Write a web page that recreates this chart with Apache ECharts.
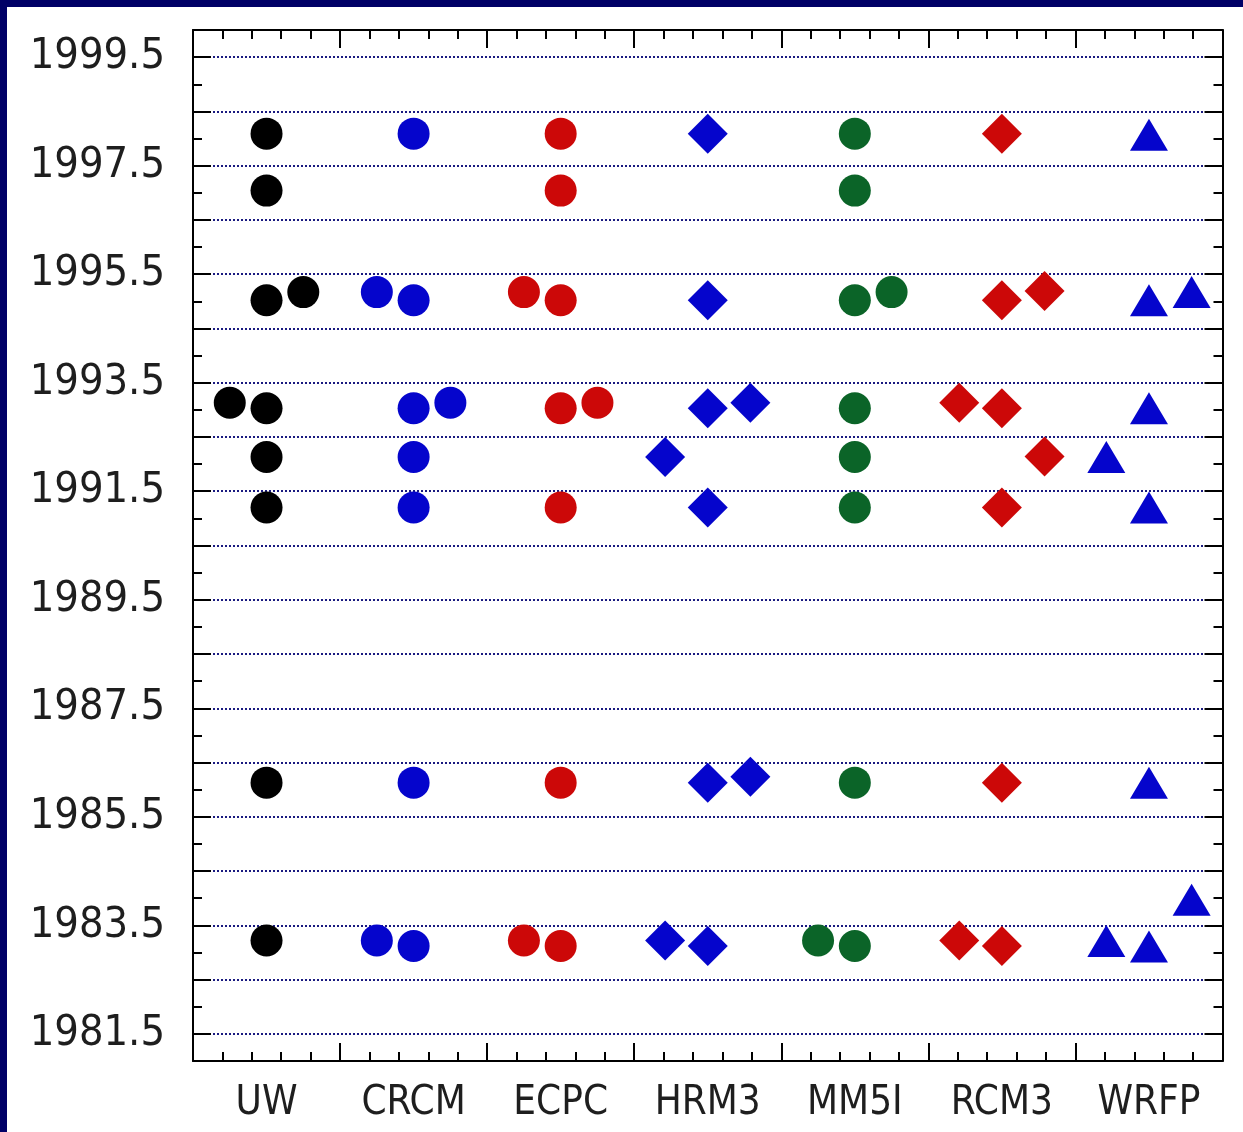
<!DOCTYPE html>
<html>
<head>
<meta charset="utf-8">
<script src="https://cdn.jsdelivr.net/npm/echarts@6/dist/echarts.min.js"></script>
<style>
  html, body { margin: 0; padding: 0; background: #ffffff; }
  #frame { position: absolute; left: 0; top: 0; width: 1243px; height: 1132px; background: #ffffff; }
  #topbar { position: absolute; left: 0; top: 0; width: 1243px; height: 7px; background: #000066; }
  #leftbar { position: absolute; left: 0; top: 0; width: 7px; height: 1132px; background: #000066; }
  #chart { position: absolute; left: 7px; top: 7px; width: 1236px; height: 1125px; background: #ffffff; }
</style>
</head>
<body>
<div id="frame">
  <div id="topbar"></div>
  <div id="leftbar"></div>
  <div id="chart"></div>
</div>
<script>
// ---- Data ----
const models = ['UW', 'CRCM', 'ECPC', 'HRM3', 'MM5I', 'RCM3', 'WRFP'];

const uwYears   = [1998.09, 1997.04, 1995.02, 1995.17, 1993.03, 1993.13, 1992.13, 1991.20, 1986.13, 1983.22];
const uwShift   = [0, 0, 0, 0.25, 0, -0.25, 0, 0, 0, 0];

const crcmYears = [1998.09, 1995.17, 1995.02, 1993.03, 1993.13, 1992.13, 1991.20, 1986.13, 1983.22, 1983.12];
const crcmShift = [0, -0.25, 0, 0, 0.25, 0, 0, 0, -0.25, 0];

const ecpcYears = [1998.09, 1997.04, 1995.17, 1995.02, 1993.03, 1993.13, 1991.20, 1986.13, 1983.22, 1983.12];
const ecpcShift = [0, 0, -0.25, 0, 0, 0.25, 0, 0, -0.25, 0];

const hrm3Years = [1998.09, 1995.02, 1993.03, 1993.13, 1992.13, 1991.20, 1986.13, 1986.24, 1983.22, 1983.12];
const hrm3Shift = [0, 0, 0, 0.29, -0.29, 0, 0, 0.29, -0.29, 0];

const mm5iYears = [1998.09, 1997.04, 1995.02, 1995.17, 1993.03, 1992.13, 1991.20, 1986.13, 1983.22, 1983.12];
const mm5iShift = [0, 0, 0, 0.25, 0, 0, 0, 0, -0.25, 0];

const rcm3Years = [1998.09, 1995.02, 1995.19, 1993.13, 1993.03, 1992.14, 1991.20, 1986.13, 1983.22, 1983.12];
const rcm3Shift = [0, 0, 0.29, -0.29, 0, 0.29, 0, 0, -0.29, 0];

const wrfpYears = [1998.07, 1995.02, 1995.17, 1993.03, 1992.13, 1991.20, 1986.13, 1983.97, 1983.21, 1983.11];
const wrfpShift = [0, 0, 0.29, 0, -0.29, 0, 0, 0.29, -0.29, 0];

const yTickLabels = [1981.5, 1983.5, 1985.5, 1987.5, 1989.5, 1991.5, 1993.5, 1995.5, 1997.5, 1999.5];

// ---- Build ----
const seriesDefs = [
  { years: uwYears,   shift: uwShift,   symbol: 'circle',   size: 32,       color: '#000000' },
  { years: crcmYears, shift: crcmShift, symbol: 'circle',   size: 32,       color: '#0505cc' },
  { years: ecpcYears, shift: ecpcShift, symbol: 'circle',   size: 32,       color: '#cc0808' },
  { years: hrm3Years, shift: hrm3Shift, symbol: 'diamond',  size: [40, 40], color: '#0505cc' },
  { years: mm5iYears, shift: mm5iShift, symbol: 'circle',   size: 32,       color: '#0b6428' },
  { years: rcm3Years, shift: rcm3Shift, symbol: 'diamond',  size: [40, 40], color: '#cc0808' },
  { years: wrfpYears, shift: wrfpShift, symbol: 'triangle', size: [38, 32], color: '#0505cc' }
];

const FONT = "'DejaVu Sans Condensed', 'DejaVu Sans'";
const TXT = '#1e1e1e';

const series = seriesDefs.map((d, i) => ({
  name: models[i],
  type: 'scatter',
  xAxisIndex: 0,
  yAxisIndex: 0,
  symbol: d.symbol,
  symbolSize: d.size,
  itemStyle: { color: d.color, opacity: 1 },
  emphasis: { disabled: true },
  data: d.years.map((y, k) => [i + 1 + d.shift[k], y])
}));

const xTicks = (pos) => ({
  type: 'value',
  position: pos,
  min: 0.5, max: 7.5, interval: 1,
  axisLine: { show: true, onZero: false, lineStyle: { color: '#000', width: 2 } },
  axisTick: { show: true, inside: true, length: 18, lineStyle: { color: '#000', width: 2 } },
  minorTick: { show: true, splitNumber: 5, length: 9, lineStyle: { color: '#000', width: 2 } },
  axisLabel: { show: false },
  splitLine: { show: false }
});

const yTicks = (pos, withGrid) => ({
  type: 'value',
  position: pos,
  min: 1981, max: 2000, interval: 1,
  axisLine: { show: true, onZero: false, lineStyle: { color: '#000', width: 2 } },
  axisTick: { show: true, inside: true, length: 9, lineStyle: { color: '#000', width: 2 } },
  minorTick: { show: true, splitNumber: 2, length: 18, lineStyle: { color: '#000', width: 2 } },
  axisLabel: { show: false },
  splitLine: { show: false },
  minorSplitLine: { show: withGrid, lineStyle: { color: '#1a1a80', width: 2, type: [2, 2] } }
});

const option = {
  backgroundColor: '#ffffff',
  animation: false,
  grid: { left: 186, right: 20.5, top: 23, bottom: 71, containLabel: false },
  xAxis: [
    xTicks('bottom'),
    xTicks('top'),
    {
      type: 'category',
      position: 'bottom',
      data: models,
      boundaryGap: true,
      axisLine: { show: false },
      axisTick: { show: false },
      splitLine: { show: false },
      axisLabel: { show: true, interval: 0, margin: 23, fontSize: 40, fontFamily: FONT, color: TXT }
    }
  ],
  yAxis: [
    yTicks('left', true),
    yTicks('right', false),
    {
      type: 'value',
      position: 'left',
      min: 1981, max: 2000, interval: 0.5,
      axisLine: { show: false },
      axisTick: { show: false },
      splitLine: { show: false },
      axisLabel: {
        show: true, margin: 28, fontSize: 43, fontFamily: FONT, color: TXT,
        padding: [0, 0, 8, 0],
        formatter: function (v) {
          for (let i = 0; i < yTickLabels.length; i++) {
            if (Math.abs(v - yTickLabels[i]) < 1e-6) return yTickLabels[i].toFixed(1);
          }
          return '';
        }
      }
    }
  ],
  series: series
};

const chart = echarts.init(document.getElementById('chart'), null, { renderer: 'canvas' });
chart.setOption(option);
</script>
</body>
</html>
